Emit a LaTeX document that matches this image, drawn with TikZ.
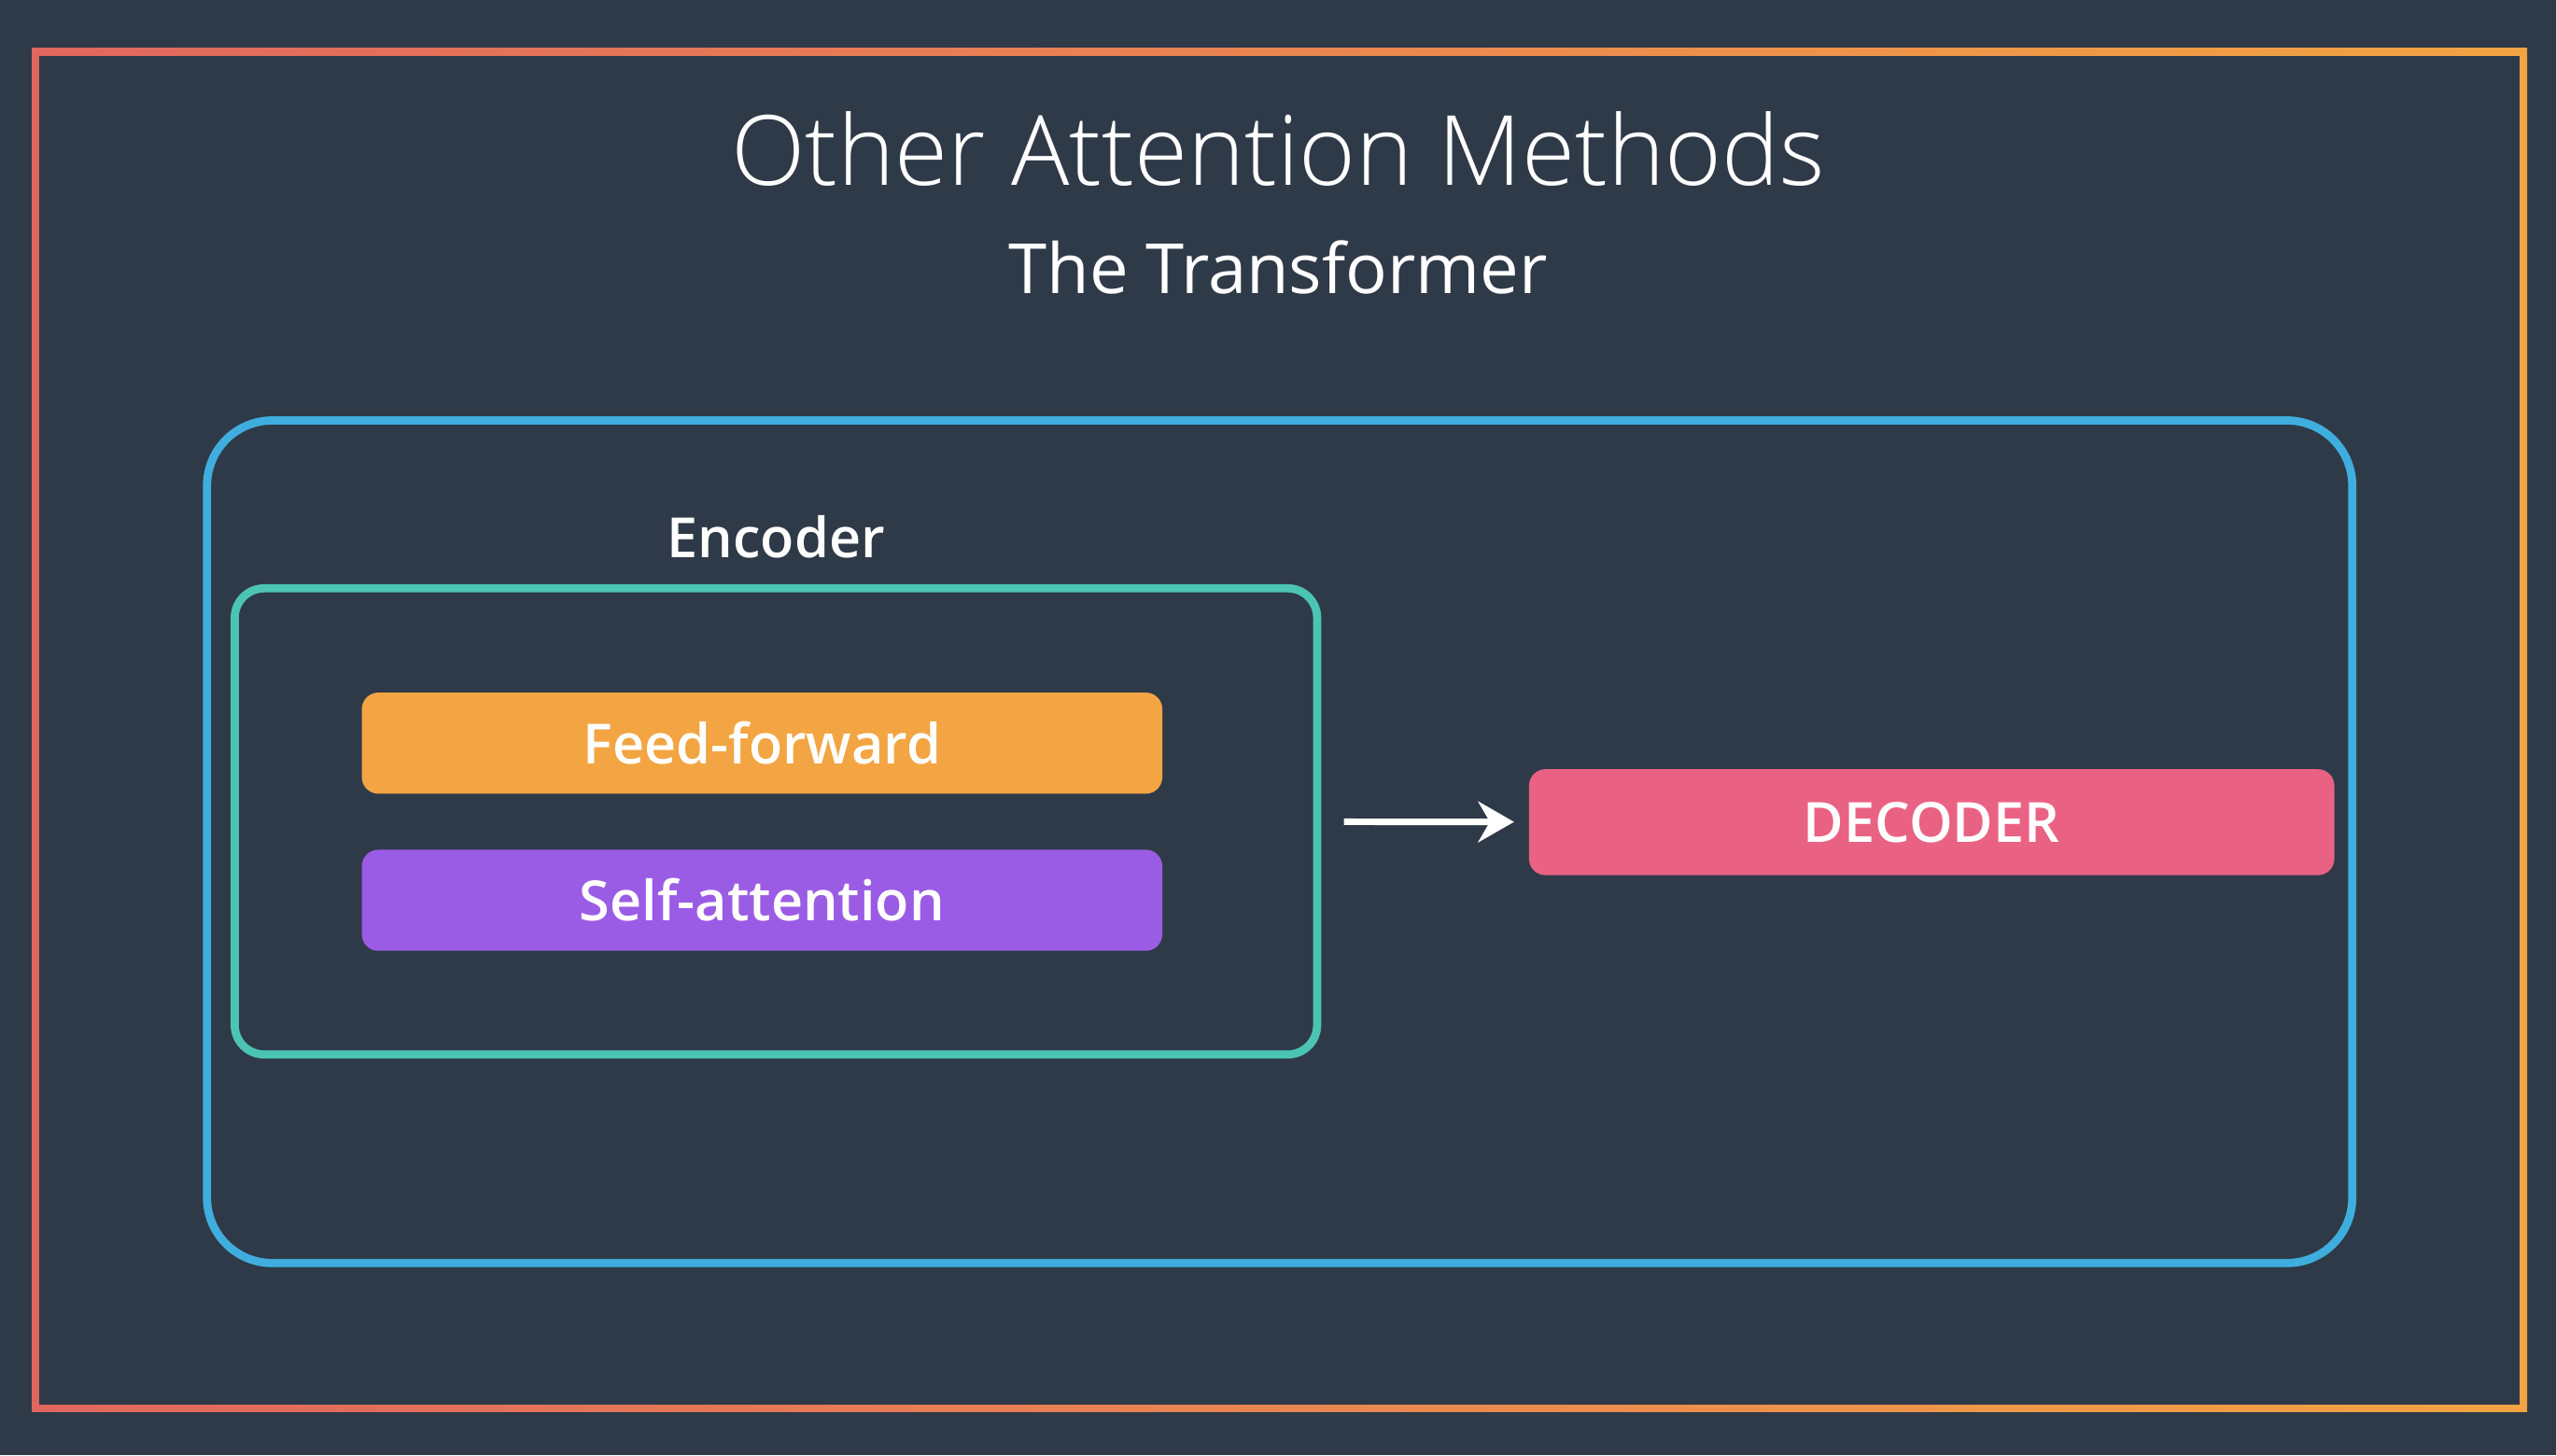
\documentclass[tikz,border=0pt]{standalone}
\usepackage{fontspec}
\setmainfont{Open Sans}
\IfFontExistsTF{Open Sans Light}{\newfontfamily\lightfont{Open Sans Light}}{\newfontfamily\lightfont{Open Sans}}
\IfFontExistsTF{Open Sans Semibold}{\newfontfamily\semifont{Open Sans Semibold}}{\newcommand\semifont{\bfseries}}
\usepackage{xcolor}
\usetikzlibrary{positioning,arrows.meta}
\definecolor{bgcol}{HTML}{2F3A48}
\definecolor{frameleft}{HTML}{E0675F}
\definecolor{frameright}{HTML}{F2A443}
\definecolor{blueline}{HTML}{3FAEDE}
\definecolor{tealline}{HTML}{4CC4B4}
\definecolor{ffcol}{HTML}{F2A542}
\definecolor{sacol}{HTML}{9B5CE5}
\definecolor{deccol}{HTML}{EA6283}
\tikzstyle{title}=  [text=white,
inner sep=0,
anchor=base,
font=\lightfont\fontsize{59.5}{64}\selectfont,
]
\tikzstyle{subtitle}= [text=white,
inner sep=0,
font=\fontsize{42.5}{46}\selectfont,
]
\tikzstyle{heading}= [text=white,
inner sep=0,
font=\semifont\fontsize{34}{38}\selectfont,
]
\tikzstyle{group}=  [draw,
rectangle,
inner sep=0,
]
\tikzstyle{block}=  [rectangle,
rounded corners=10pt,
text=white,
font=\semifont\fontsize{34}{38}\selectfont,
minimum width=491pt,
minimum height=62pt,
]

\begin{document}
\begin{tikzpicture}[x=1pt, y=1pt]
        \fill[bgcol] (0,0) rectangle (1568,893);
        \useasboundingbox (0,0) rectangle (1568,893);
        \shade[left color=frameleft, right color=frameright] (19.75,26.75) rectangle (1550.25,863.25);
        \fill[bgcol] (24.25,31.25) rectangle (1545.75,858.75);

        \node[title] (title) at (784,779.5) {Other Attention Methods};
        \node[subtitle, below=33pt of title] (subtitle) {The Transformer};

        \node[group, draw=blueline, line width=5pt, rounded corners=40pt, minimum width=1316pt, minimum height=517pt] (transformer) at (785,376.5) {};
        \node[group, draw=tealline, line width=5pt, rounded corners=18pt, minimum width=664pt, minimum height=286pt] (encoder) at (476,389) {};
        \node[heading, above=16pt of encoder] (encoder_label) {Encoder};
        \node[block, fill=ffcol] (feed_forward) at (467.5,437) {Feed-forward};
        \node[block, fill=sacol, below=34pt of feed_forward] (self_attention) {Self-attention};
        \node[block, fill=deccol, minimum width=494pt, minimum height=65pt] (decoder) at (1185,388.5) {DECODER};

        \draw[-{Stealth[length=22pt,width=25pt]}, white, line width=4pt, shorten <=14pt, shorten >=9pt] (encoder) -- (decoder);
    \end{tikzpicture}
\end{document}
